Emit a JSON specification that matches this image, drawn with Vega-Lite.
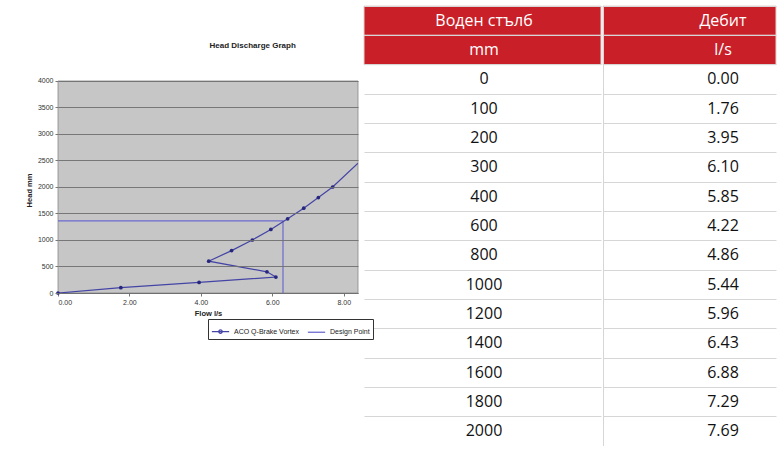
{
  "$schema": "https://vega.github.io/schema/vega-lite/v6.json",
  "background": "white",
  "padding": {"left": 25, "top": 5, "right": 0, "bottom": 0},
  "spacing": 4,
  "config": {"view": {"stroke": null}, "font": "Liberation Sans"},
  "datasets": {
    "curve": [
      {"head": 0, "flow": 0.00},
      {"head": 100, "flow": 1.76},
      {"head": 200, "flow": 3.95},
      {"head": 300, "flow": 6.10},
      {"head": 400, "flow": 5.85},
      {"head": 600, "flow": 4.22},
      {"head": 800, "flow": 4.86},
      {"head": 1000, "flow": 5.44},
      {"head": 1200, "flow": 5.96},
      {"head": 1400, "flow": 6.43},
      {"head": 1600, "flow": 6.88},
      {"head": 1800, "flow": 7.29},
      {"head": 2000, "flow": 7.69},
      {"head": 2450, "flow": 8.4}
    ],
    "design": [
      {"flow": 0, "head": 1360},
      {"flow": 6.3, "head": 1360},
      {"flow": 6.3, "head": 0}
    ],
    "plotarea": [
      {"flow": 0, "flow_end": 8.4, "head": 0, "head_end": 4000}
    ],
    "titles": [
      {"flow": 5.45, "head": 4660, "label": "Head Discharge Graph"}
    ],
    "table": [
      {"row": 1, "col": "L", "part": "header", "text": "Воден стълб"},
      {"row": 1, "col": "R", "part": "header", "text": "Дебит"},
      {"row": 2, "col": "L", "part": "header", "text": "mm"},
      {"row": 2, "col": "R", "part": "header", "text": "l/s"},
      {"row": 3, "col": "L", "part": "body", "text": "0"},
      {"row": 3, "col": "R", "part": "body", "text": "0.00"},
      {"row": 4, "col": "L", "part": "body", "text": "100"},
      {"row": 4, "col": "R", "part": "body", "text": "1.76"},
      {"row": 5, "col": "L", "part": "body", "text": "200"},
      {"row": 5, "col": "R", "part": "body", "text": "3.95"},
      {"row": 6, "col": "L", "part": "body", "text": "300"},
      {"row": 6, "col": "R", "part": "body", "text": "6.10"},
      {"row": 7, "col": "L", "part": "body", "text": "400"},
      {"row": 7, "col": "R", "part": "body", "text": "5.85"},
      {"row": 8, "col": "L", "part": "body", "text": "600"},
      {"row": 8, "col": "R", "part": "body", "text": "4.22"},
      {"row": 9, "col": "L", "part": "body", "text": "800"},
      {"row": 9, "col": "R", "part": "body", "text": "4.86"},
      {"row": 10, "col": "L", "part": "body", "text": "1000"},
      {"row": 10, "col": "R", "part": "body", "text": "5.44"},
      {"row": 11, "col": "L", "part": "body", "text": "1200"},
      {"row": 11, "col": "R", "part": "body", "text": "5.96"},
      {"row": 12, "col": "L", "part": "body", "text": "1400"},
      {"row": 12, "col": "R", "part": "body", "text": "6.43"},
      {"row": 13, "col": "L", "part": "body", "text": "1600"},
      {"row": 13, "col": "R", "part": "body", "text": "6.88"},
      {"row": 14, "col": "L", "part": "body", "text": "1800"},
      {"row": 14, "col": "R", "part": "body", "text": "7.29"},
      {"row": 15, "col": "L", "part": "body", "text": "2000"},
      {"row": 15, "col": "R", "part": "body", "text": "7.69"}
    ]
  },
  "hconcat": [
    {
      "width": 300,
      "height": 287,
      "encoding": {
        "x": {"field": "flow", "type": "quantitative", "scale": {"domain": [0, 8.4], "nice": false, "zero": false},
          "axis": {
            "values": [0, 2, 4, 6, 8], "format": ".2f", "grid": false,
            "title": "Flow l/s", "titleFontSize": 7.5, "titleFontWeight": "bold", "titleColor": "#222",
            "titlePadding": 4, "labelFontSize": 7, "labelColor": "#333",
            "domainColor": "#777", "tickColor": "#777", "tickSize": 3
          }},
        "y": {"field": "head", "type": "quantitative", "scale": {"domain": [0, 5415], "nice": false},
          "axis": {
            "values": [0, 500, 1000, 1500, 2000, 2500, 3000, 3500, 4000], "format": "d",
            "grid": true, "gridColor": "#6e6e6e", "gridWidth": 0.9, "zindex": 1,
            "domain": false,
            "title": "Head mm", "titleFontSize": 7.5, "titleFontWeight": "bold", "titleColor": "#222",
            "titlePadding": 4, "titleY": 184, "labelFontSize": 7, "labelColor": "#333",
            "tickColor": "#777", "tickSize": 3
          }}
      },
      "layer": [
        {
          "data": {"name": "plotarea"},
          "mark": {"type": "rect", "fill": "#c6c6c6", "stroke": "#888", "strokeWidth": 0.8},
          "encoding": {
            "x2": {"field": "flow_end"},
            "y2": {"field": "head_end"}
          }
        },
        {
          "data": {"name": "titles"},
          "mark": {"type": "text", "fontSize": 8, "fontWeight": "bold", "color": "#222"},
          "encoding": {
            "text": {"field": "label"}
          }
        },
        {
          "data": {"name": "design"},
          "transform": [{"calculate": "'Design Point'", "as": "series"}],
          "mark": {"type": "line", "strokeWidth": 1.2, "clip": true},
          "encoding": {
            "color": {
              "field": "series", "type": "nominal",
              "scale": {"domain": ["ACO Q-Brake Vortex", "Design Point"], "range": ["#4444a6", "#6b6bcf"]},
              "legend": {
                "orient": "none", "legendX": 150, "legendY": 313, "direction": "horizontal",
                "title": null, "labelFontSize": 7, "labelColor": "#222",
                "symbolSize": 300, "symbolStrokeWidth": 1.3, "columnPadding": 6,
                "strokeColor": "#333", "fillColor": "white", "padding": 3,
                "symbolType": "M-1,0H1M0,-0.2A0.2,0.2,0,1,1,0,0.2A0.2,0.2,0,1,1,0,-0.2Z",
                "encode": {
                  "symbols": {
                    "update": {
                      "shape": {"signal": "datum.value === 'Design Point' ? 'M-1,0H1' : 'M-1,0H1M0,-0.2A0.2,0.2,0,1,1,0,0.2A0.2,0.2,0,1,1,0,-0.2Z'"}
                    }
                  }
                }
              }
            },
            "order": {"value": null}
          }
        },
        {
          "data": {"name": "curve"},
          "transform": [{"calculate": "'ACO Q-Brake Vortex'", "as": "series"}],
          "mark": {"type": "line", "strokeWidth": 1.2, "clip": true},
          "encoding": {
            "color": {"field": "series", "type": "nominal"},
            "order": {"field": "head", "type": "quantitative"}
          }
        },
        {
          "data": {"name": "curve"},
          "transform": [{"filter": "datum.head <= 2000"}],
          "mark": {"type": "point", "filled": true, "size": 14, "opacity": 1, "color": "#26267e"}
        }
      ]
    },
    {
      "spacing": 0,
      "hconcat": [
        {
          "width": 237,
          "height": 440,
          "data": {"name": "table"},
          "transform": [{"filter": "datum.col === 'L'"}],
          "encoding": {
            "y": {
              "field": "row", "type": "ordinal",
              "scale": {"paddingInner": 0, "paddingOuter": 0},
              "axis": {"labels": false, "ticks": false, "domain": false, "title": null,
                       "grid": true, "bandPosition": 0, "gridColor": "#d6d6d6", "gridWidth": 1}
            }
          },
          "layer": [
            {
              "transform": [{"filter": "datum.part === 'header'"}],
              "mark": {"type": "rect", "color": "#c91f28", "stroke": "#e8d4d4", "strokeWidth": 1},
              "encoding": {"x": {"value": 0}, "x2": {"value": 237}}
            },
            {
              "mark": {"type": "text", "fontSize": 16, "font": "Open Sans", "align": "center", "baseline": "middle"},
              "encoding": {
                "x": {"value": 120},
                "text": {"field": "text"},
                "color": {"condition": {"test": "datum.part === 'header'", "value": "white"}, "value": "#111"},
                "fontWeight": {"condition": {"test": "datum.part === 'header'", "value": 600}, "value": 400}
              }
            }
          ]
        },
        {
          "width": 173,
          "height": 440,
          "data": {"name": "table"},
          "transform": [{"filter": "datum.col === 'R'"}],
          "encoding": {
            "y": {
              "field": "row", "type": "ordinal",
              "scale": {"paddingInner": 0, "paddingOuter": 0},
              "axis": {"labels": false, "ticks": false, "domain": true, "domainColor": "#d6d6d6", "title": null,
                       "grid": true, "bandPosition": 0, "gridColor": "#d6d6d6", "gridWidth": 1}
            }
          },
          "layer": [
            {
              "transform": [{"filter": "datum.part === 'header'"}],
              "mark": {"type": "rect", "color": "#c91f28", "stroke": "#e8d4d4", "strokeWidth": 1},
              "encoding": {"x": {"value": 0}, "x2": {"value": 173}}
            },
            {
              "mark": {"type": "text", "fontSize": 16, "font": "Open Sans", "align": "center", "baseline": "middle"},
              "encoding": {
                "x": {"value": 120},
                "text": {"field": "text"},
                "color": {"condition": {"test": "datum.part === 'header'", "value": "white"}, "value": "#111"},
                "fontWeight": {"condition": {"test": "datum.part === 'header'", "value": 600}, "value": 400}
              }
            }
          ]
        }
      ]
    }
  ]
}
